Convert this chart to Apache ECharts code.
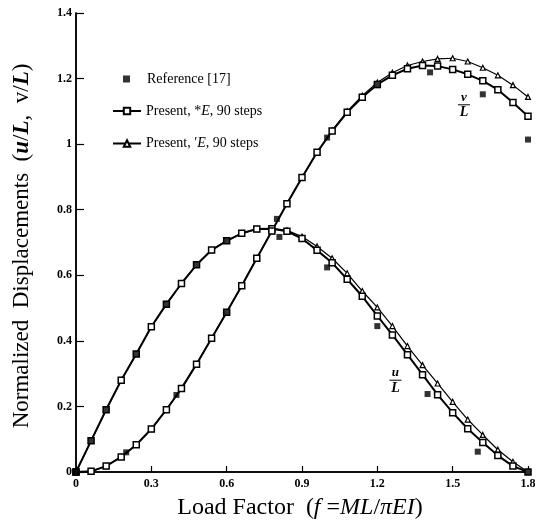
<!DOCTYPE html>
<html><head><meta charset="utf-8">
<script src="https://cdn.jsdelivr.net/npm/echarts@6/dist/echarts.min.js"></script>
<style>html,body{margin:0;padding:0;background:#fff}#c{width:547px;height:529px}</style>
</head><body><div id="c"></div>
<script>
const xSteps = [0,0.06,0.12,0.18,0.24,0.30,0.36,0.42,0.48,0.54,0.60,0.66,0.72,0.78,0.84,0.90,0.96,1.02,1.08,1.14,1.20,1.26,1.32,1.38,1.44,1.50,1.56,1.62,1.68,1.74,1.80];
// Present, *E (open squares)
const uStar = [0,0.095,0.19,0.28,0.36,0.443,0.512,0.575,0.632,0.677,0.705,0.728,0.741,0.742,0.734,0.712,0.676,0.638,0.588,0.536,0.476,0.418,0.358,0.297,0.236,0.181,0.132,0.090,0.050,0.018,0.0];
const vStar = [0,0.002,0.018,0.046,0.083,0.131,0.190,0.255,0.329,0.408,0.487,0.568,0.652,0.735,0.818,0.898,0.975,1.040,1.097,1.143,1.182,1.210,1.230,1.240,1.238,1.228,1.213,1.193,1.166,1.127,1.085];
// Present, 'E (triangles)
const uPrime = [0,0.095,0.19,0.28,0.36,0.443,0.512,0.575,0.632,0.677,0.705,0.728,0.741,0.743,0.737,0.718,0.688,0.652,0.606,0.552,0.502,0.445,0.384,0.326,0.270,0.214,0.160,0.113,0.068,0.031,0.0];
const vPrime = [0,0.002,0.018,0.046,0.083,0.131,0.190,0.255,0.329,0.408,0.487,0.568,0.652,0.735,0.818,0.898,0.975,1.042,1.100,1.148,1.188,1.218,1.240,1.252,1.260,1.262,1.252,1.233,1.210,1.180,1.144];
// Reference [17]
const refUx = [0,0.06,0.12,0.24,0.36,0.48,0.60,0.81,1.00,1.20,1.40,1.60,1.80];
const refUy = [0,0.095,0.19,0.36,0.512,0.632,0.705,0.717,0.624,0.445,0.238,0.062,0.0];
const refVx = [0,0.20,0.40,0.60,0.80,1.00,1.20,1.41,1.62,1.80];
const refVy = [0,0.060,0.235,0.487,0.772,1.020,1.180,1.219,1.152,1.014];
const xTicks = ['0','0.3','0.6','0.9','1.2','1.5','1.8'];
const yTicks = ['0','0.2','0.4','0.6','0.8','1','1.2','1.4'];

const pair = (xs, ys) => xs.map((x, i) => [x, ys[i]]);
const serif = 'Liberation Serif';
const chart = echarts.init(document.getElementById('c'));

const starStyle = {type:'line', name:'Present, *E, 90 steps', symbol:'rect', symbolSize:6,
  lineStyle:{color:'#000', width:2}, itemStyle:{color:'#fff', borderColor:'#000', borderWidth:1.5}, z:3};
const primeStyle = {type:'line', name:"Present, 'E, 90 steps", symbol:'triangle', symbolSize:5,
  lineStyle:{color:'#000', width:1.2}, itemStyle:{color:'#fff', borderColor:'#000', borderWidth:1.2}, z:2};
const refStyle = {type:'scatter', name:'Reference [17]', symbol:'rect', symbolSize:6,
  itemStyle:{color:'#000'}, z:4};

const legendRich = {
  n:{fontFamily:serif, fontSize:14, color:'#000', lineHeight:14},
  p:{fontFamily:serif, fontSize:14, color:'#000', lineHeight:14, padding:[0,0,0,12]},
  i:{fontFamily:serif, fontSize:14, fontStyle:'italic', color:'#000', lineHeight:14}
};

chart.setOption({
  animation:false,
  backgroundColor:'#fff',
  grid:{left:76, right:19, top:13, bottom:57},
  legend:[{
    orient:'vertical', left:118, top:67, itemWidth:7, itemHeight:7,
    data:['Reference [17]'],
    textStyle:{fontFamily:serif, fontSize:14, color:'#000', rich:legendRich},
    formatter: () => '{p|Reference [17]}'
  },{
    orient:'vertical', left:107, top:99, itemGap:18.5, itemWidth:28, itemHeight:8,
    data:['Present, *E, 90 steps',"Present, 'E, 90 steps"],
    textStyle:{fontFamily:serif, fontSize:14, color:'#000', rich:legendRich},
    formatter: n => n.indexOf('*') >= 0 ? '{n|Present, *}{i|E}{n|, 90 steps}' : '{n|Present, ′}{i|E}{n|, 90 steps}'
  }],
  xAxis:[{
    type:'value', min:0, max:1.8, interval:0.3,
    axisLine:{lineStyle:{color:'#000', width:1.5}},
    axisTick:{inside:true, length:6, lineStyle:{color:'#000', width:1.2}},
    splitLine:{show:false},
    axisLabel:{margin:6, fontFamily:serif, fontSize:12, fontWeight:'bold', color:'#000',
      formatter:(v)=>xTicks[Math.round(v/0.3)]}
  },{
    type:'value', min:0, max:1.8, position:'top',
    axisLine:{show:true, lineStyle:{color:'#000', width:1.5}}, axisTick:{show:false}, axisLabel:{show:false}, splitLine:{show:false}
  }],
  yAxis:[{
    type:'value', min:0, max:1.4, interval:0.2,
    axisLine:{show:true, lineStyle:{color:'#000', width:1.5}},
    axisTick:{show:true, inside:true, length:8, lineStyle:{color:'#000', width:1.2}},
    splitLine:{show:false},
    axisLabel:{margin:4, fontFamily:serif, fontSize:12, fontWeight:'bold', color:'#000',
      formatter:(v)=>yTicks[Math.round(v/0.2)]}
  },{
    type:'value', min:0, max:1.4, position:'right',
    axisLine:{show:true, lineStyle:{color:'#000', width:1.5}}, axisTick:{show:false}, axisLabel:{show:false}, splitLine:{show:false}
  }],
  series:[
    Object.assign({}, primeStyle, {data:pair(xSteps, uPrime)}),
    Object.assign({}, primeStyle, {data:pair(xSteps, vPrime)}),
    Object.assign({}, starStyle, {data:pair(xSteps, uStar)}),
    Object.assign({}, starStyle, {data:pair(xSteps, vStar)}),
    Object.assign({}, refStyle, {data:pair(refUx, refUy)}),
    Object.assign({}, refStyle, {data:pair(refVx, refVy)})
  ]
});

function frac(top, dx, dy){
  const p = chart.convertToPixel({gridIndex:0}, [dx, dy]);
  return [
    {type:'text', x:p[0], y:p[1]-1, style:{text:top, fontFamily:serif, fontStyle:'italic', fontWeight:'bold', fontSize:13, fill:'#000', align:'center', verticalAlign:'bottom'}},
    {type:'line', shape:{x1:p[0]-6, y1:p[1], x2:p[0]+6, y2:p[1]}, style:{stroke:'#000', lineWidth:1}},
    {type:'text', x:p[0], y:p[1]+1, style:{text:'L', fontFamily:serif, fontStyle:'italic', fontWeight:'bold', fontSize:14, fill:'#000', align:'center', verticalAlign:'top'}}
  ];
}
chart.setOption({graphic:[
  ...frac('v', 1.545, 1.12),
  ...frac('u', 1.272, 0.28),
  {type:'text', x:300, y:508, style:{
    text:'{n|Load Factor  (}{i|f }{n|=}{i|ML}{n|/}{i|π}{i|EI}{n|)}', align:'center', verticalAlign:'middle',
    rich:{n:{fontFamily:serif, fontSize:24, color:'#000'}, i:{fontFamily:serif, fontSize:24, fontStyle:'italic', color:'#000'}}}},
  {type:'text', x:22, y:246, rotation:Math.PI/2, style:{
    text:'{n|Normalized  Displacements  (}{i|u}{n|/}{i|L}{n|,  v/}{i|L}{n|)}', align:'center', verticalAlign:'middle',
    rich:{n:{fontFamily:serif, fontSize:23, color:'#000'}, i:{fontFamily:serif, fontSize:23, fontStyle:'italic', fontWeight:'bold', color:'#000'}}}}
]});
</script></body></html>
